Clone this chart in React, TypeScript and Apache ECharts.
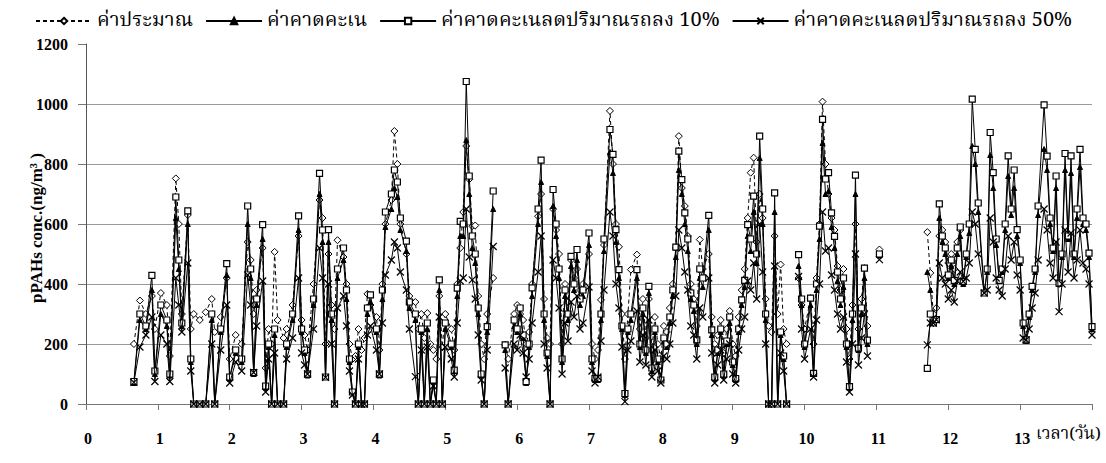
import React, { useEffect, useRef } from "react";
import * as echarts from "echarts";

// Sampling times in hours from the start of the campaign (x axis shows days)
const hours = [
  16, 18, 20, 22, 23,
  25, 27, 28, 30, 31, 32, 34, 35, 36, 38, 40, 42, 43, 45, 47,
  48, 50, 52, 54, 55, 56, 57, 59, 60, 61, 62, 63, 64, 66, 67, 69, 71,
  72, 73, 74, 76, 78, 79, 80, 81, 82, 83, 84, 86, 87, 88, 89, 90, 91, 92, 93, 94, 95,
  97, 98, 99, 100, 102, 103, 104, 105, 107, 108, 110, 111, 112, 113, 114, 115, 116, 117, 118, 119,
  120, 122, 123, 124, 125, 126, 127, 128, 129, 130, 131, 132, 133, 134, 136, 138, 140, 141, 143,
  144, 145, 146, 147, 148, 149, 151, 152, 153, 154, 155, 156, 157, 158, 159, 160, 161, 162, 163, 164, 165, 166,
  168, 169, 170, 171, 172, 173, 175, 176, 177, 178, 179, 180, 181, 182, 184, 185, 186, 187, 188, 189, 190, 191,
  192, 193, 194, 195, 196, 197, 198, 199, 200, 201, 202, 203, 204, 205, 206, 208, 209, 210, 211, 212, 213, 214, 215,
  216, 217, 218, 219, 220, 221, 222, 223, 224, 225, 226, 227, 228, 229, 230, 231, 232, 233, 234, 236, 238, 239,
  240, 242, 243, 244, 245, 246, 247, 248, 249, 250, 251, 252, 253, 254, 255, 256, 257, 258, 259, 260, 261, 263,
  265, 270, 281, 282, 283, 284, 285, 286, 287,
  288, 289, 290, 291, 292, 293, 294, 295, 296, 297, 298, 300, 301, 302, 303, 304, 305, 306, 307, 308, 309, 310, 311,
  312, 313, 314, 315, 316, 317, 318, 320, 321, 322, 323, 324, 325, 326, 327, 328, 329, 330, 331, 332, 333, 334, 335, 336,
];

// ค่าประมาณ (estimated)
const estimated = [
  200, 345, 300, 360, 250,
  370, 330, 160, 752, 600, 300, 630, 250, 300, 280, 306, 350, 240, 290, 420,
  150, 230, 200, 540, 480, 300, 380, 520, 120, 250, 200, 507, 280, 220, 250, 330, 560,
  280, 230, 180, 400, 680, 620, 200, 500, 330, 250, 546, 490, 400, 200, 150, 160, 250, 180, 220, 367, 330,
  290, 180, 400, 600, 680, 910, 800, 600, 500, 360, 340, 250, 300, 220, 303, 200, 180, 150, 360, 190,
  300, 250, 180, 400, 520, 640, 860, 749, 593, 595, 360, 200, 150, 300, 420, null, 197, 150, 300,
  330, 300, 280, 200, 240, 400, 626, 700, 350, 220, 200, 650, 580, 500, 200, 400, 340, 480, 420, 450, 380, 400,
  500, 200, 150, 180, 347, 530, 977, 800, 600, 524, 300, 150, 300, 448, 498, 250, 350, 220, 350, 180, 290, 200,
  150, 260, 240, 320, 400, 520, 893, 720, 660, 560, 400, 350, 260, 548, 450, 500, 290, 200, 230, 280, 170, 250, 310,
  200, 160, 290, 380, 450, 620, 771, 821, 540, 700, 620, 350, 260, 240, 560, 300, 465, 250, 200, null, 420, 330,
  250, 353, 200, 420, 600, 1008, 800, 700, 620, 580, 460, 380, 450, 250, 150, 330, 600, 250, 350, 453, 260, null,
  515, null, 573, 437, 300, 320, 560, 580, 540,
  470, 500, 450, 540, 580, null, null, null, null, null, null, null, null, null, null, null, null, null, null, null, null, null, null,
  null, null, null, null, null, null, null, null, null, null, null, null, null, null, null, null, null, null, null, null, null, null, null, null,
];

// ค่าคาดคะเน (predicted)
const predicted = [
  70, 280, 250, 380, 100,
  300, 260, 95, 620, 450, 260, 600, 140, 0, 0, 0, 280, 0, 240, 430,
  85, 170, 140, 600, 420, 100, 330, 550, 55, 190, 0, 230, 0, 0, 190, 280, 580,
  240, 170, 95, 330, 700, 540, 90, 540, 280, 0, 420, 480, 350, 140, 40, 0, 190, 0, 0, 300, 340,
  240, 95, 350, 590, 650, 720, 690, 580, 510, 320, 280, 0, 240, 0, 250, 0, 75, 0, 380, 0,
  250, 190, 110, 360, 560, 560, 880, 700, 520, 470, 300, 95, 0, 240, 650, null, 180, 0, 260,
  240, 300, 220, 70, 190, 360, 600, 740, 280, 160, 0, 660, 560, 420, 140, 360, 280, 460, 380, 480, 330, 360,
  530, 140, 80, 80, 280, 510, 840, 770, 540, 420, 250, 30, 240, 280, 420, 190, 300, 170, 370, 110, 240, 140,
  80, 210, 190, 270, 360, 490, 780, 700, 600, 510, 350, 310, 200, 420, 390, 580, 230, 85, 170, 240, 95, 200, 270,
  130, 80, 240, 330, 390, 560, 510, 640, 470, 820, 600, 280, 0, 0, 640, 0, 230, 150, 0, null, 460, 330,
  190, 330, 100, 380, 550, 870, 700, 710, 590, 520, 410, 330, 390, 190, 55, 280, 700, 180, 300, 420, 200, null,
  495, null, 440, 380, 270, 280, 620, 540, 500,
  420, 460, 400, 500, 560, 400, 490, 570, 860, 800, 640, 370, 440, 830, 720, 530, 410, 440, 580, 760, 630, 720, 560,
  470, 260, 210, 290, 380, 440, 630, 850, 780, 600, 510, 720, 400, 490, 780, 550, 770, 490, 620, 790, 600, 580, 490, 250,
];

// ค่าคาดคะเนลดปริมาณรถลง 10%
const cut10 = [
  75, 300, 260, 429, 110,
  330, 280, 100, 690, 480, 270, 644, 150, 0, 0, 0, 300, 0, 250, 468,
  90, 180, 150, 660, 450, 105, 350, 598, 60, 200, 0, 250, 0, 0, 200, 300, 627,
  250, 180, 100, 350, 769, 580, 90, 581, 300, 0, 450, 520, 380, 150, 40, 0, 200, 0, 0, 320, 364,
  250, 100, 380, 640, 700, 780, 740, 620, 543, 340, 300, 0, 250, 0, 270, 0, 80, 0, 414, 0,
  270, 200, 113, 386, 609, 600, 1075, 760, 560, 500, 320, 100, 0, 258, 710, null, 197, 0, 280,
  250, 320, 230, 75, 200, 387, 650, 813, 300, 170, 0, 715, 600, 450, 150, 380, 300, 492, 400, 515, 350, 380,
  570, 150, 85, 85, 300, 550, 915, 832, 581, 448, 260, 35, 250, 300, 448, 200, 320, 180, 392, 120, 250, 150,
  80, 220, 200, 290, 380, 523, 843, 748, 637, 550, 370, 330, 214, 450, 420, 629, 247, 90, 180, 250, 100, 210, 290,
  140, 85, 250, 347, 412, 598, 550, 693, 500, 893, 650, 300, 0, 0, 704, 0, 240, 160, 0, null, 498, 350,
  200, 353, 102, 400, 593, 949, 750, 771, 637, 559, 440, 350, 420, 200, 58, 300, 763, 186, 320, 453, 213, null,
  500, null, 119, 300, 270, 281, 667, 560, 520,
  430, 480, 412, 520, 590, 409, 500, 600, 1016, 849, 670, 370, 450, 905, 771, 550, 412, 450, 600, 827, 650, 780, 581,
  480, 270, 214, 300, 392, 450, 660, 997, 826, 620, 520, 760, 403, 500, 835, 560, 827, 500, 650, 849, 620, 600, 503, 258,
];

// ค่าคาดคะเนลดปริมาณรถลง 50%
const cut50 = [
  72, 190, 230, 290, 75,
  230, 200, 75, 420, 330, 240, 470, 110, 0, 0, 0, 200, 0, 180, 330,
  70, 140, 110, 430, 330, 105, 260, 410, 40, 150, 0, 170, 0, 0, 150, 220, 420,
  170, 130, 100, 250, 520, 420, 89, 400, 200, 0, 320, 360, 260, 110, 30, 0, 150, 0, 0, 230, 260,
  180, 100, 270, 430, 480, 540, 520, 440, 380, 250, 91, 0, 180, 0, 190, 0, 60, 0, 290, 0,
  190, 150, 90, 270, 410, 420, 650, 490, 414, 350, 230, 80, 0, 180, 525, null, 120, 0, 200,
  180, 230, 170, 90, 150, 270, 440, 560, 200, 120, 0, 480, 420, 320, 100, 270, 210, 340, 290, 360, 250, 270,
  390, 110, 70, 90, 210, 380, 640, 560, 400, 320, 190, 8, 180, 210, 310, 140, 230, 130, 280, 90, 180, 110,
  70, 160, 150, 200, 270, 360, 580, 520, 440, 380, 260, 230, 150, 320, 290, 420, 170, 70, 130, 180, 80, 150, 200,
  100, 70, 180, 250, 290, 410, 380, 470, 350, 600, 440, 200, 0, 0, 460, 0, 170, 110, 0, null, 425, 250,
  150, 250, 90, 280, 400, 640, 510, 520, 430, 380, 300, 250, 290, 140, 40, 200, 500, 130, 220, 300, 160, null,
  481, null, 197, 270, 270, 281, 470, 420, 400,
  350, 380, 340, 410, 440, 409, 420, 470, 640, 600, 500, 370, 380, 620, 540, 420, 380, 360, 450, 560, 480, 540, 430,
  380, 220, 214, 250, 320, 370, 480, 650, 580, 470, 420, 540, 308, 400, 580, 440, 570, 420, 480, 580, 470, 450, 400, 230,
];

const seriesNames = [
  "ค่าประมาณ",
  "ค่าคาดคะเน",
  "ค่าคาดคะเนลดปริมาณรถลง 10%",
  "ค่าคาดคะเนลดปริมาณรถลง 50%",
];

const dayTicks = [0, 1, 2, 3, 4, 5, 6, 7, 8, 9, 10, 11, 12, 13];

const yTitle = "pPAHs conc.(ng/m³ )";
const xTitle = "เวลา(วัน)";

const SERIF = "'Liberation Serif', 'Times New Roman', serif";
const THAI = "'Noto Serif Thai', 'Norasi', 'Noto Sans Thai', 'Garuda', 'Loma', 'Liberation Serif', serif";
const CROSS = "path://M0,0L10,10M10,0L0,10";

const toPoints = (vals: (number | null)[]) =>
  hours.map((h, i) => [h / 24, vals[i] === null ? "-" : vals[i]]);

export default function App() {
  const ref = useRef<HTMLDivElement>(null);

  useEffect(() => {
    if (!ref.current) return;
    const chart = echarts.init(ref.current, null, { renderer: "svg" });

    const base = {
      type: "line" as const,
      showSymbol: true,
      showAllSymbol: true,
      connectNulls: false,
      emphasis: { disabled: true },
    };

    chart.setOption({
      animation: false,
      backgroundColor: "#fff",
      grid: { left: 86, right: 14, top: 44, bottom: 59, containLabel: false },
      legend: {
        top: 6,
        left: 30,
        width: 1070,
        itemWidth: 56,
        itemHeight: 8,
        itemGap: 12,
        textStyle: { fontFamily: THAI, fontSize: 20, color: "#000" },
        data: seriesNames,
      },
      xAxis: {
        type: "value",
        min: 0,
        max: 14,
        interval: 1,
        axisLine: { show: true, lineStyle: { color: "#777", width: 1 } },
        axisTick: { show: true, inside: false, length: 6, lineStyle: { color: "#777" } },
        splitLine: { show: false },
        axisLabel: {
          margin: 26,
          fontFamily: SERIF,
          fontWeight: "bold",
          fontSize: 16,
          color: "#000",
          padding: [0, 0, 0, 4],
          formatter: (v: number) => (dayTicks.includes(v) ? String(v) : ""),
        },
      },
      yAxis: {
        type: "value",
        min: 0,
        max: 1200,
        interval: 200,
        axisLine: { show: true, lineStyle: { color: "#555", width: 1 } },
        axisTick: { show: true, inside: false, length: 8, lineStyle: { color: "#777" } },
        splitLine: {
          show: true,
          lineStyle: {
            color: ["#999", "#999", "#999", "#999", "#999", "#999", "rgba(0,0,0,0)"],
            width: 1,
          },
        },
        axisLabel: {
          margin: 18,
          fontFamily: SERIF,
          fontWeight: "bold",
          fontSize: 16,
          color: "#000",
          formatter: (v: number) => String(v),
        },
      },
      graphic: [
        {
          type: "text",
          x: 36,
          y: 228,
          rotation: Math.PI / 2,
          style: {
            text: yTitle,
            font: `bold 17px ${SERIF}`,
            fill: "#000",
            align: "center",
            verticalAlign: "middle",
          },
        },
        {
          type: "text",
          left: 1036,
          top: 426,
          style: { text: xTitle, font: `17px ${THAI}`, fill: "#000" },
        },
      ],
      series: [
        {
          ...base,
          name: seriesNames[0],
          data: toPoints(estimated),
          symbol: "diamond",
          symbolSize: 7,
          lineStyle: { color: "#000", width: 1, type: [4, 3] },
          itemStyle: { color: "#fff", borderColor: "#000", borderWidth: 1 },
          z: 2,
        },
        {
          ...base,
          name: seriesNames[1],
          data: toPoints(predicted),
          symbol: "triangle",
          symbolSize: 5,
          lineStyle: { color: "#000", width: 1 },
          itemStyle: { color: "#000", borderColor: "#000", borderWidth: 1 },
          z: 3,
        },
        {
          ...base,
          name: seriesNames[2],
          data: toPoints(cut10),
          symbol: "rect",
          symbolSize: 6,
          lineStyle: { color: "#000", width: 1 },
          itemStyle: { color: "#fff", borderColor: "#000", borderWidth: 1.2 },
          z: 4,
        },
        {
          ...base,
          name: seriesNames[3],
          data: toPoints(cut50),
          symbol: CROSS,
          symbolSize: 7,
          lineStyle: { color: "#000", width: 1 },
          itemStyle: { color: "#000", borderColor: "#000", borderWidth: 1.2 },
          z: 5,
        },
      ],
    });

    return () => chart.dispose();
  }, []);

  return (
    <div
      ref={ref}
      style={{ position: "fixed", left: 0, top: 0, width: 1106, height: 463, background: "#fff" }}
    />
  );
}
